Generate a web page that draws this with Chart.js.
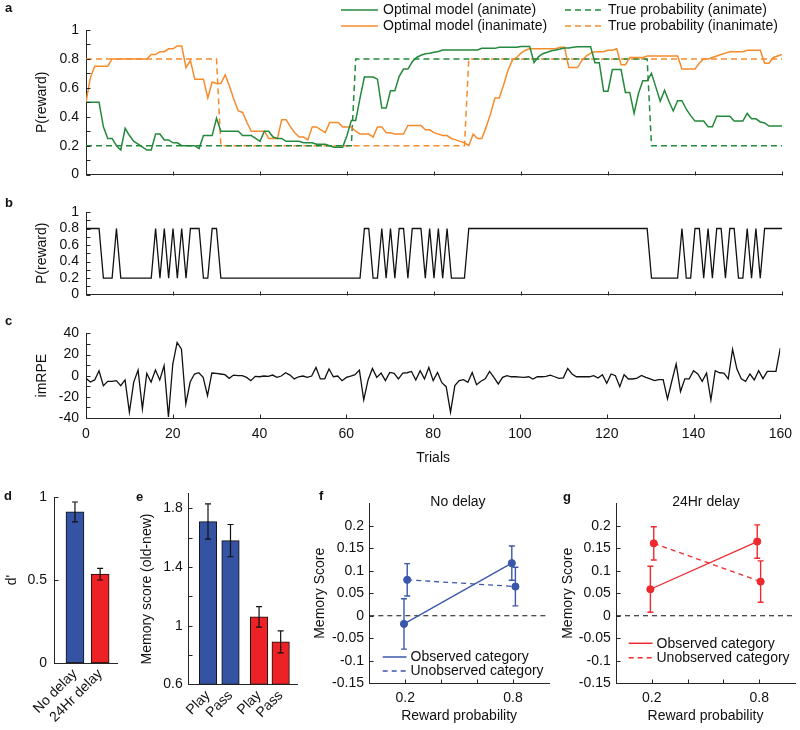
<!DOCTYPE html>
<html>
<head>
<meta charset="utf-8">
<script src="https://cdn.jsdelivr.net/npm/chart.js@4.4.1/dist/chart.umd.min.js"></script>
<style>
  body { margin: 0; background: #fff; }
  #page { position: relative; width: 800px; height: 730px; overflow: hidden;
          font-family: Helvetica, Arial, "Liberation Sans", sans-serif; color: #111; }
  .box { position: absolute; }
  .tag { position: absolute; font-weight: bold; font-size: 13px; line-height: 13px; }
  .ttl { position: absolute; font-size: 14px; line-height: 18px; width: 120px; text-align: center; }
</style>
</head>
<body>
<div id="page">
  <div class="box" style="left:0;top:0;width:800px;height:190px"><canvas id="chartA"></canvas></div>
  <div class="box" style="left:0;top:195px;width:800px;height:115px"><canvas id="chartB"></canvas></div>
  <div class="box" style="left:0;top:318px;width:800px;height:152px"><canvas id="chartC"></canvas></div>
  <div class="box" style="left:0;top:480px;width:135px;height:250px"><canvas id="chartD"></canvas></div>
  <div class="box" style="left:135px;top:480px;width:170px;height:250px"><canvas id="chartE"></canvas></div>
  <div class="box" style="left:310px;top:480px;width:250px;height:250px"><canvas id="chartF"></canvas></div>
  <div class="box" style="left:556px;top:480px;width:244px;height:250px"><canvas id="chartG"></canvas></div>

  <div class="tag" style="left:5px;top:1px">a</div>
  <div class="tag" style="left:5px;top:196px">b</div>
  <div class="tag" style="left:5px;top:314px">c</div>
  <div class="tag" style="left:4px;top:489px">d</div>
  <div class="tag" style="left:136px;top:490px">e</div>
  <div class="tag" style="left:319px;top:489px">f</div>
  <div class="tag" style="left:563px;top:490px">g</div>
  <div class="ttl" style="left:398px;top:492px">No delay</div>
  <div class="ttl" style="left:646px;top:492px">24Hr delay</div>
</div>
<script>
// ---- data ----
// panel a: optimal model estimates per trial (0..160)
const pAnimate = [
  0.50, 0.50, 0.50, 0.50, 0.33, 0.25, 0.25, 0.20, 0.17, 0.32,
  0.27, 0.23, 0.21, 0.19, 0.17, 0.17, 0.28, 0.28, 0.24, 0.24,
  0.22, 0.22, 0.20, 0.20, 0.20, 0.20, 0.18, 0.27, 0.27, 0.27,
  0.39, 0.30, 0.30, 0.30, 0.30, 0.30, 0.27, 0.27, 0.27, 0.25,
  0.23, 0.30, 0.30, 0.26, 0.25, 0.25, 0.23, 0.23, 0.23, 0.23,
  0.22, 0.22, 0.22, 0.21, 0.21, 0.21, 0.20, 0.19, 0.19, 0.19,
  0.27, 0.375, 0.375, 0.53, 0.675, 0.675, 0.675, 0.66, 0.46, 0.46,
  0.58, 0.58, 0.68, 0.73, 0.73, 0.78, 0.81, 0.825, 0.836, 0.84,
  0.846, 0.851, 0.862, 0.862, 0.862, 0.862, 0.862, 0.862, 0.862, 0.862,
  0.862, 0.873, 0.873, 0.873, 0.873, 0.88, 0.88, 0.88, 0.88, 0.88,
  0.886, 0.886, 0.886, 0.774, 0.814, 0.836, 0.846, 0.857, 0.862, 0.868,
  0.875, 0.875, 0.88, 0.884, 0.884, 0.884, 0.884, 0.774, 0.774, 0.577,
  0.577, 0.726, 0.726, 0.726, 0.568, 0.568, 0.423, 0.561, 0.649, 0.649,
  0.70, 0.605, 0.507, 0.583, 0.507, 0.44, 0.511, 0.511, 0.452, 0.408,
  0.37, 0.37, 0.37, 0.331, 0.331, 0.404, 0.404, 0.404, 0.404, 0.37,
  0.37, 0.37, 0.423, 0.386, 0.386, 0.364, 0.357, 0.336, 0.336, 0.336,
  0.336
];
const pInanimate = [
  0.50, 0.67, 0.75, 0.75, 0.75, 0.75, 0.80, 0.80, 0.80, 0.80,
  0.80, 0.80, 0.80, 0.80, 0.80, 0.83, 0.83, 0.85, 0.85, 0.87,
  0.87, 0.89, 0.89, 0.74, 0.79, 0.66, 0.66, 0.66, 0.53, 0.64,
  0.63, 0.63, 0.69, 0.61, 0.52, 0.44, 0.43, 0.36, 0.30, 0.30,
  0.30, 0.30, 0.25, 0.25, 0.25, 0.38, 0.38, 0.33, 0.29, 0.26,
  0.26, 0.24, 0.33, 0.33, 0.31, 0.29, 0.36, 0.36, 0.36, 0.33,
  0.33, 0.33, 0.30, 0.28, 0.28, 0.28, 0.26, 0.33, 0.33, 0.29,
  0.29, 0.28, 0.28, 0.28, 0.34, 0.34, 0.34, 0.34, 0.31, 0.31,
  0.29, 0.28, 0.27, 0.27, 0.25, 0.24, 0.23, 0.22, 0.20, 0.28,
  0.25, 0.25, 0.33, 0.42, 0.53, 0.53, 0.62, 0.72, 0.79, 0.81,
  0.84, 0.86, 0.87, 0.87, 0.87, 0.87, 0.87, 0.87, 0.87, 0.88,
  0.88, 0.74, 0.74, 0.74, 0.79, 0.82, 0.84, 0.85, 0.85, 0.85,
  0.86, 0.86, 0.87, 0.76, 0.76, 0.81, 0.81, 0.81, 0.81, 0.82,
  0.82, 0.82, 0.82, 0.82, 0.82, 0.82, 0.82, 0.73, 0.73, 0.73,
  0.73, 0.77, 0.80, 0.80, 0.81, 0.82, 0.83, 0.84, 0.85, 0.85,
  0.85, 0.85, 0.86, 0.86, 0.86, 0.86, 0.77, 0.77, 0.81, 0.82,
  0.83
];
// true reward probability: breakpoints (trial, value)
const trueAnimT = [0, 61, 62, 129, 130, 160];
const trueAnimP = [0.2, 0.2, 0.8, 0.8, 0.2, 0.2];
const trueInanT = [0, 30, 31, 87, 88, 160];
const trueInanP = [0.8, 0.8, 0.2, 0.2, 0.8, 0.8];

// panel b: P(reward) of the shown category
const pShown = [
  0.8, 0.8, 0.8, 0.8, 0.2, 0.2, 0.2, 0.8, 0.2, 0.2,
  0.2, 0.2, 0.2, 0.2, 0.2, 0.2, 0.8, 0.2, 0.8, 0.2,
  0.8, 0.2, 0.8, 0.2, 0.8, 0.8, 0.8, 0.2, 0.2, 0.8,
  0.8, 0.2, 0.2, 0.2, 0.2, 0.2, 0.2, 0.2, 0.2, 0.2,
  0.2, 0.2, 0.2, 0.2, 0.2, 0.2, 0.2, 0.2, 0.2, 0.2,
  0.2, 0.2, 0.2, 0.2, 0.2, 0.2, 0.2, 0.2, 0.2, 0.2,
  0.2, 0.2, 0.2, 0.2, 0.8, 0.8, 0.2, 0.2, 0.8, 0.2,
  0.8, 0.2, 0.8, 0.8, 0.2, 0.8, 0.8, 0.8, 0.2, 0.8,
  0.2, 0.8, 0.2, 0.8, 0.2, 0.2, 0.2, 0.2, 0.8, 0.8,
  0.8, 0.8, 0.8, 0.8, 0.8, 0.8, 0.8, 0.8, 0.8, 0.8,
  0.8, 0.8, 0.8, 0.8, 0.8, 0.8, 0.8, 0.8, 0.8, 0.8,
  0.8, 0.8, 0.8, 0.8, 0.8, 0.8, 0.8, 0.8, 0.8, 0.8,
  0.8, 0.8, 0.8, 0.8, 0.8, 0.8, 0.8, 0.8, 0.8, 0.8,
  0.2, 0.2, 0.2, 0.2, 0.2, 0.2, 0.2, 0.8, 0.2, 0.2,
  0.8, 0.8, 0.2, 0.8, 0.2, 0.8, 0.8, 0.2, 0.8, 0.8,
  0.2, 0.2, 0.8, 0.2, 0.8, 0.2, 0.8, 0.8, 0.8, 0.8,
  0.8
];

// panel c: imRPE per trial
const imRPE = [
  -2.5, -6, -4, 4.7, -9.4, -5.3, -5.3, -4.7, -9.4, -4,
  -34.5, -6, 5.3, -31.4, 2.2, -6, 5.3, -4, 9.4, -39,
  11, 31.4, 25, -26.7, -6, 1.6, 2.8, -1.6, -18.8, 2.5,
  2.2, 1.6, 1, -2.5, 0.6, 0, 0, -1.6, -4.7, -0.6,
  -1, -0.3, -0.6, 0.6, -1.6, -0.3, 2.8, 0.6, -3, -1,
  -0.3, -1.6, -0.3, 7.8, -3, -3, 6.3, -1, -0.3, -4.7,
  -1.6, -0.5, 1, 5.3, -22.9, -4, 6.9, -1.6, 2.5, -4.7,
  3.1, 2.2, -3, 2.5, 2.8, 4, -4, 4.7, -3, 7.8,
  -4.7, 3.1, -6.6, -10.4, -34.5, -9.4, -4.7, -3.8, -6.3, 3.1,
  -8.5, -5.3, -3, 4, -1.6, -7.8, -1.6, 0, -1, -1,
  -1.3, -1.6, -1, -3.1, -1, -1, -0.6, 0.6, -1, -2.5,
  -2, 6.9, 1.6, -1, -1, -1, -1, 0, -2.2, 0.9,
  -7.2, 1.6, 0, -10.4, 0.9, -3.1, -3.1, -2.2, 0.3, -1.6,
  -3.1, -4.7, -3.8, -3.8, -22, -5, 11, -15, -3, -3,
  4.7, 1.6, -5.3, 2.5, -23, 4.7, 2.8, 2.5, -3, 25,
  6.3, -3, -5.3, 1.6, -4, 4.7, -2.8, 4, 4, 4,
  26
];
const trials = pAnimate.map((v, i) => i);
const trialTicks = [0, 20, 40, 60, 80, 100, 120, 140, 160];
const trialLabels = ['0', '20', '40', '60', '80', '100', '120', '140', '160'];
const probTicks = [0, 0.1, 0.2, 0.3, 0.4, 0.5, 0.6, 0.7, 0.8, 0.9, 1];
const probLabels = ['0', '', '0.2', '', '0.4', '', '0.6', '', '0.8', '', '1'];
const rpeTicks = [-40, -30, -20, -10, 0, 10, 20, 30, 40];
const rpeLabels = ['-40', '', '-20', '', '0', '', '20', '', '40'];

// panel d: d'
const dGroups = ['No delay', '24Hr delay'];
const dPos = [1, 2];
const dMean = [0.91, 0.535];
const dErr = [0.06, 0.035];
const dTicks = [0, 0.5, 1];
const dTickLabels = ['0', '0.5', '1'];

// panel e: memory score (old-new)
const eGroups = ['Play', 'Pass', 'Play', 'Pass'];
const ePos = [1, 2, 3.27, 4.23];
const eMean = [1.71, 1.58, 1.06, 0.89];
const eErr = [0.12, 0.11, 0.07, 0.075];
const eTicks = [0.6, 0.8, 1, 1.2, 1.4, 1.6, 1.8];
const eTickLabels = ['0.6', '', '1', '', '1.4', '', '1.8'];

// panels f, g: memory score by reward probability
const rewardTicks = [0.2, 0.4, 0.6, 0.8];
const rewardLabels = ['0.2', '', '', '0.8'];
const scoreTicks = [-0.15, -0.1, -0.05, 0, 0.05, 0.1, 0.15, 0.2];
const scoreLabels = ['-0.15', '-0.1', '-0.05', '0', '0.05', '0.1', '0.15', '0.2'];
const zeroX = [0, 1];
const zeroY = [0, 0];

const fObsX = [0.193, 0.793];
const fObs = [-0.018, 0.117];
const fObsErr = [0.056, 0.038];
const fUnobsX = [0.211, 0.813];
const fUnobs = [0.080, 0.065];
const fUnobsErr = [0.036, 0.043];

const gObsX = [0.192, 0.789];
const gObs = [0.059, 0.165];
const gObsErr = [0.051, 0.037];
const gUnobsX = [0.211, 0.808];
const gUnobs = [0.161, 0.076];
const gUnobsErr = [0.037, 0.046];

// ---- style ----
const FONT = 'Helvetica, Arial, "Liberation Sans", sans-serif';
const TXT = '#111';
const AXIS = '#262626';
const GREEN = '#23893c';
const ORANGE = '#f68b2c';
const BLUE = '#3553a3';
const RED = '#ec2227';
const FBLUE = '#3a57aa';
const GRED = '#ee2a2f';

Chart.defaults.font.family = FONT;
Chart.defaults.font.size = 14;
Chart.defaults.color = TXT;
Chart.defaults.animation = false;
Chart.defaults.maintainAspectRatio = false;
Chart.defaults.plugins.legend.display = false;
Chart.defaults.plugins.tooltip.enabled = false;

const xy = (xs, ys) => ys.map((v, i) => ({ x: xs[i], y: v }));

function yAxis(o) {
  return {
    type: 'linear', min: o.min, max: o.max,
    afterBuildTicks: s => { s.ticks = o.ticks.map(v => ({ value: v })); },
    afterFit: s => { s.width = o.width; },
    grid: { display: false, drawTicks: false },
    border: { display: true, color: AXIS, width: 1 },
    ticks: { autoSkip: false, padding: o.pad, callback: (v, i) => o.labels[i] },
    title: { display: true, text: o.title, padding: { top: o.tpad, bottom: 0 } }
  };
}

function xAxis(o) {
  return {
    type: 'linear', min: o.min, max: o.max, offset: false,
    afterBuildTicks: s => { s.ticks = o.ticks.map(v => ({ value: v })); },
    afterFit: s => { s.height = o.height; },
    grid: { display: false, drawTicks: false },
    border: { display: true, color: AXIS, width: 1 },
    ticks: {
      display: !!o.labels, autoSkip: false, padding: o.pad || 0,
      maxRotation: o.rot || 0, minRotation: o.rot || 0,
      callback: (v, i) => (o.labels ? o.labels[i] : '')
    },
    title: { display: !!o.title, text: o.title || '', padding: { top: 0, bottom: o.tpad || 0 } }
  };
}

// MATLAB style ticks pointing into the plot
const inTicks = {
  id: 'inTicks',
  afterDraw(chart, args, opts) {
    const ctx = chart.ctx;
    ctx.save();
    ctx.strokeStyle = AXIS;
    ctx.lineWidth = 1;
    const len = 4;
    Object.values(chart.scales).forEach(s => {
      if (s.isHorizontal() && opts.skipX) return;
      s.ticks.forEach(t => {
        const p = Math.round(s.getPixelForValue(t.value)) + 0.5;
        ctx.beginPath();
        if (s.isHorizontal()) {
          const y = Math.round(s.top) + 0.5;
          ctx.moveTo(p, y); ctx.lineTo(p, y - len);
        } else {
          const x = Math.round(s.right) + 0.5;
          ctx.moveTo(x, p); ctx.lineTo(x + len, p);
        }
        ctx.stroke();
      });
    });
    ctx.restore();
  }
};

const errBars = {
  id: 'errBars',
  afterDatasetsDraw(chart) {
    const ctx = chart.ctx, ys = chart.scales.y;
    chart.data.datasets.forEach((ds, di) => {
      if (!ds.errors) return;
      const meta = chart.getDatasetMeta(di);
      ctx.save();
      ctx.strokeStyle = ds.errorColor;
      ctx.lineWidth = ds.errorWidth;
      meta.data.forEach((el, i) => {
        const v = ds.data[i].y;
        const x = el.x;
        const top = ys.getPixelForValue(v + ds.errors[i]);
        const bot = ys.getPixelForValue(v - ds.errors[i]);
        ctx.beginPath();
        ctx.moveTo(x, top); ctx.lineTo(x, bot);
        ctx.moveTo(x - 3, top); ctx.lineTo(x + 3, top);
        ctx.moveTo(x - 3, bot); ctx.lineTo(x + 3, bot);
        ctx.stroke();
      });
      ctx.restore();
    });
  }
};

function legendBox(items) {
  return {
    id: 'legendBox',
    afterDraw(chart) {
      const ctx = chart.ctx;
      ctx.save();
      ctx.font = '14px ' + FONT;
      ctx.textBaseline = 'middle';
      ctx.fillStyle = TXT;
      items.forEach(it => {
        ctx.beginPath();
        ctx.setLineDash(it.dash || []);
        ctx.strokeStyle = it.color;
        ctx.lineWidth = 1.5;
        ctx.moveTo(it.x1, it.y); ctx.lineTo(it.x2, it.y);
        ctx.stroke();
        ctx.setLineDash([]);
        ctx.fillText(it.text, it.tx, it.y + 0.5);
      });
      ctx.restore();
    }
  };
}

const lineEl = { point: { radius: 0 }, line: { tension: 0, borderWidth: 1.5 } };

// ---- a ----
new Chart('chartA', {
  type: 'line',
  data: {
    datasets: [
      { data: xy(trials, pAnimate), borderColor: GREEN },
      { data: xy(trials, pInanimate), borderColor: ORANGE },
      { data: xy(trueAnimT, trueAnimP), borderColor: GREEN, borderDash: [6, 4] },
      { data: xy(trueInanT, trueInanP), borderColor: ORANGE, borderDash: [6, 4] }
    ]
  },
  options: {
    layout: { padding: { top: 30, right: 18, left: 0, bottom: 0 } },
    elements: lineEl,
    scales: {
      x: xAxis({ min: 0, max: 160, ticks: trialTicks, height: 8 }),
      y: yAxis({ min: 0, max: 1, ticks: probTicks, labels: probLabels, width: 86, pad: 7, title: 'P(reward)', tpad: 33.6 })
    }
  },
  plugins: [inTicks, legendBox([
    { x1: 341, x2: 378, y: 10, color: GREEN, text: 'Optimal model (animate)', tx: 383 },
    { x1: 341, x2: 378, y: 26, color: ORANGE, text: 'Optimal model (inanimate)', tx: 383 },
    { x1: 565, x2: 603, y: 10, color: GREEN, dash: [6, 4], text: 'True probability (animate)', tx: 608 },
    { x1: 565, x2: 603, y: 26, color: ORANGE, dash: [6, 4], text: 'True probability (inanimate)', tx: 608 }
  ])]
});

// ---- b ----
new Chart('chartB', {
  type: 'line',
  data: { datasets: [{ data: xy(trials, pShown), borderColor: '#111', borderWidth: 1.3 }] },
  options: {
    layout: { padding: { top: 17, right: 18, left: 0, bottom: 0 } },
    elements: lineEl,
    scales: {
      x: xAxis({ min: 0, max: 160, ticks: trialTicks, height: 8 }),
      y: yAxis({ min: 0, max: 1, ticks: probTicks, labels: probLabels, width: 86, pad: 7, title: 'P(reward)', tpad: 33.6 })
    }
  },
  plugins: [inTicks]
});

// ---- c ----
new Chart('chartC', {
  type: 'line',
  data: { datasets: [{ data: xy(trials, imRPE), borderColor: '#111', borderWidth: 1.3 }] },
  options: {
    layout: { padding: { top: 15, right: 18, left: 0, bottom: 0 } },
    elements: lineEl,
    scales: {
      x: xAxis({ min: 0, max: 160, ticks: trialTicks, labels: trialLabels, height: 52, pad: 8, title: 'Trials', tpad: 3.6 }),
      y: yAxis({ min: -40, max: 40, ticks: rpeTicks, labels: rpeLabels, width: 86, pad: 7, title: 'imRPE', tpad: 33.6 })
    }
  },
  plugins: [inTicks]
});

// ---- d ----
new Chart('chartD', {
  type: 'bar',
  data: {
    datasets: [{
      data: xy(dPos, dMean), base: 0, barThickness: 18,
      backgroundColor: [BLUE, RED], borderColor: '#111', borderWidth: 1, borderSkipped: false,
      errors: dErr, errorColor: '#111', errorWidth: 1.2
    }]
  },
  options: {
    layout: { padding: { top: 17, right: 18, left: 0, bottom: 0 } },
    scales: {
      x: xAxis({ min: 0.167, max: 2.67, ticks: dPos, labels: dGroups, height: 67, pad: 3, rot: 45 }),
      y: yAxis({ min: 0, max: 1, ticks: dTicks, labels: dTickLabels, width: 54, pad: 7, title: "d'", tpad: 3.3 })
    },
    plugins: { inTicks: { skipX: true } }
  },
  plugins: [inTicks, errBars]
});

// ---- e ----
new Chart('chartE', {
  type: 'bar',
  data: {
    datasets: [{
      data: xy(ePos, eMean), base: 0.6, barThickness: 17.5,
      backgroundColor: [BLUE, BLUE, RED, RED], borderColor: '#111', borderWidth: 1, borderSkipped: false,
      errors: eErr, errorColor: '#111', errorWidth: 1.2
    }]
  },
  options: {
    layout: { padding: { top: 11.2, right: 8, left: 0, bottom: 0 } },
    scales: {
      x: xAxis({ min: 0.111, max: 4.956, ticks: ePos, labels: eGroups, height: 45.7, pad: 3, rot: 45 }),
      y: yAxis({ min: 0.6, max: 1.9, ticks: eTicks, labels: eTickLabels, width: 53, pad: 5.3, title: 'Memory score (old-new)', tpad: 3.3 })
    },
    plugins: { inTicks: { skipX: true } }
  },
  plugins: [inTicks, errBars]
});

// ---- f, g ----
function scoreChart(id, color, obsX, obs, obsErr, unX, un, unErr, pad, legendY) {
  return new Chart(id, {
    type: 'line',
    data: {
      datasets: [
        { data: xy(obsX, obs), borderColor: color, backgroundColor: color, borderWidth: 1.3,
          pointRadius: 3.6, pointBorderWidth: 1, errors: obsErr, errorColor: color, errorWidth: 1.4 },
        { data: xy(unX, un), borderColor: color, backgroundColor: color, borderWidth: 1.3, borderDash: [5, 4],
          pointRadius: 3.6, pointBorderWidth: 1, errors: unErr, errorColor: color, errorWidth: 1.4 },
        { data: xy(zeroX, zeroY), borderColor: '#111', borderWidth: 1.1, borderDash: [5, 4], pointRadius: 0 }
      ]
    },
    options: {
      layout: { padding: { top: 23.3, right: pad.right, left: 0, bottom: 0 } },
      elements: { line: { tension: 0 } },
      scales: {
        x: xAxis({ min: 0, max: 1, ticks: rewardTicks, labels: rewardLabels, height: 46.7, pad: 6, title: 'Reward probability', tpad: 5.6 }),
        y: yAxis({ min: -0.15, max: 0.25, ticks: scoreTicks, labels: scoreLabels, width: pad.width, pad: 5.3, title: 'Memory Score', tpad: pad.tpad })
      }
    },
    plugins: [inTicks, errBars, legendBox([
      { x1: 72.7, x2: 96.5, y: legendY[0], color: color, text: 'Observed category', tx: 100.5 },
      { x1: 72.7, x2: 96.5, y: legendY[1], color: color, dash: [5, 4], text: 'Unobserved category', tx: 100.5 }
    ])]
  });
}

scoreChart('chartF', FBLUE, fObsX, fObs, fObsErr, fUnobsX, fUnobs, fUnobsErr,
  { right: 11, width: 59.3, tpad: 1.6 }, [177, 191]);
scoreChart('chartG', GRED, gObsX, gObs, gObsErr, gUnobsX, gUnobs, gUnobsErr,
  { right: 3.3, width: 60, tpad: 3.9 }, [163.3, 177.7]);
</script>
</body>
</html>
